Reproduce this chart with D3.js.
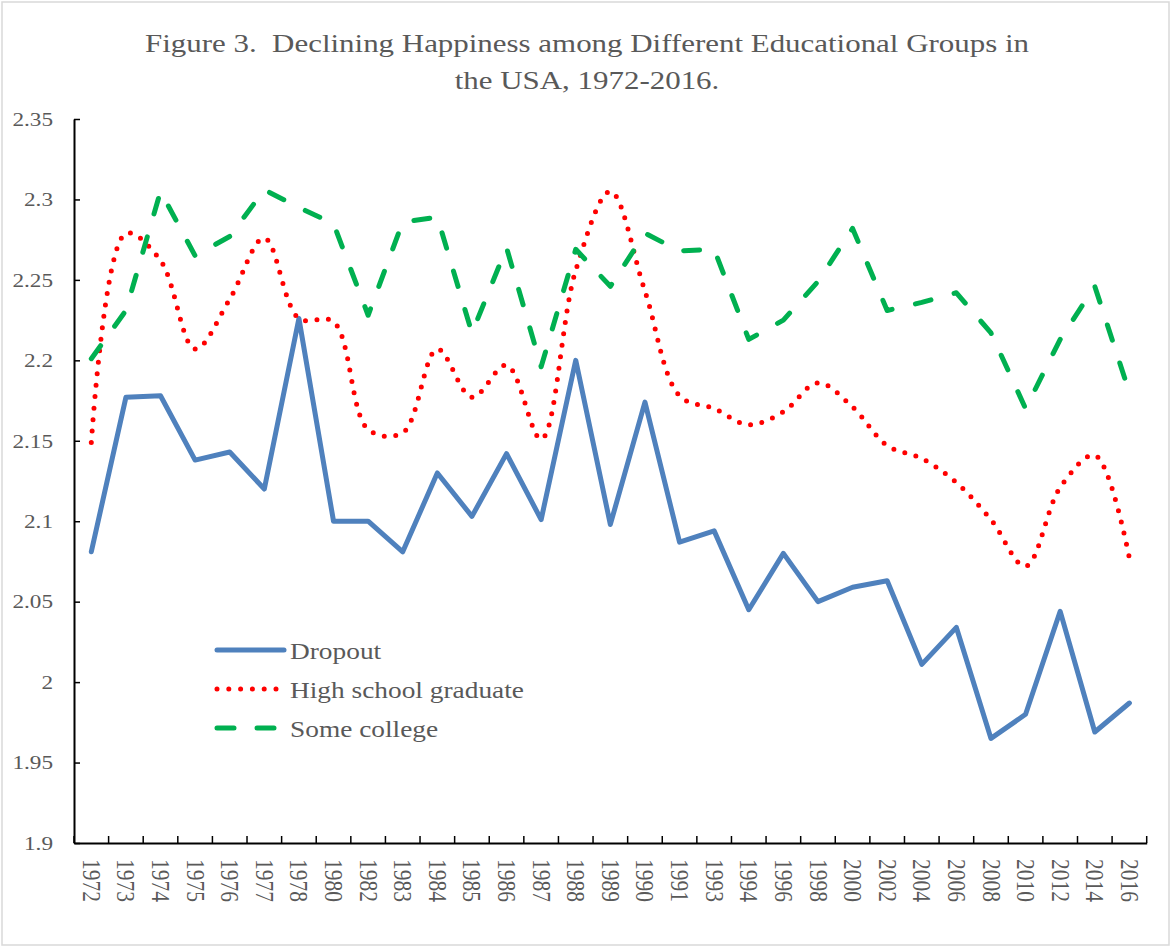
<!DOCTYPE html>
<html>
<head>
<meta charset="utf-8">
<script src="https://cdn.jsdelivr.net/npm/d3@7"></script>
<style>
  body { margin: 0; background: #fff; }
  text { font-family: "Times New Roman", "Liberation Serif", serif; fill: #595959; }
</style>
</head>
<body>
<div id="chart"></div>
<script>
// Chart data
//=====================================================================
var years = ["1972", "1973", "1974", "1975", "1976", "1977", "1978", "1980", "1982", "1983",
    "1984", "1985", "1986", "1987", "1988", "1989", "1990", "1991", "1993", "1994",
    "1996", "1998", "2000", "2002", "2004", "2006", "2008", "2010", "2012", "2014", "2016"];

var dropout = [2.081, 2.177, 2.178, 2.138, 2.143, 2.120, 2.226, 2.100, 2.100, 2.081,
    2.130, 2.103, 2.142, 2.101, 2.200, 2.098, 2.174, 2.087, 2.094, 2.045,
    2.080, 2.050, 2.059, 2.063, 2.011, 2.034, 1.965, 1.980, 2.044, 1.969, 1.987];

var highSchool = [2.149, 2.279, 2.262, 2.207, 2.238, 2.276, 2.226, 2.224, 2.157, 2.155,
    2.207, 2.177, 2.197, 2.151, 2.256, 2.305, 2.243, 2.178, 2.170, 2.160,
    2.168, 2.186, 2.171, 2.147, 2.139, 2.124, 2.101, 2.072, 2.121, 2.141, 2.077];

var someCollege = [2.201, 2.231, 2.305, 2.265, 2.277, 2.306, 2.295, 2.285, 2.228, 2.286,
    2.289, 2.217, 2.270, 2.196, 2.269, 2.246, 2.279, 2.268, 2.269, 2.213,
    2.225, 2.249, 2.282, 2.231, 2.236, 2.242, 2.217, 2.170, 2.213, 2.246, 2.180];

var yTicks = [1.9, 1.95, 2, 2.05, 2.1, 2.15, 2.2, 2.25, 2.3, 2.35];

var seriesNames = ["Dropout", "High school graduate", "Some college"];

// Layout
//=====================================================================
var svgWidth = 1171;
var svgHeight = 947;
var margin = { top: 119, right: 24.3, bottom: 104, left: 74 };
var width = svgWidth - margin.left - margin.right;
var height = svgHeight - margin.top - margin.bottom;
var stretch = 1.19;   // the figure's text is a bit wide

var svg = d3.select("#chart")
    .append("svg")
    .attr("width", svgWidth)
    .attr("height", svgHeight);

// outer frame
svg.append("rect")
    .attr("x", 2).attr("y", 2)
    .attr("width", svgWidth - 4).attr("height", svgHeight - 4)
    .attr("fill", "none")
    .attr("stroke", "#d9d9d9")
    .attr("stroke-width", 1.5);

var chartGroup = svg.append("g")
    .attr("transform", `translate(${margin.left}, ${margin.top})`);

// Title
svg.append("text")
    .attr("transform", `translate(587, 52) scale(${stretch}, 1)`)
    .attr("text-anchor", "middle")
    .style("font-size", "26px")
    .style("white-space", "pre")
    .text("Figure 3.  Declining Happiness among Different Educational Groups in");

svg.append("text")
    .attr("transform", `translate(587, 89) scale(${stretch}, 1)`)
    .attr("text-anchor", "middle")
    .style("font-size", "26px")
    .text("the USA, 1972-2016.");

// Scales
//=====================================================================
var xScale = d3.scaleBand()
    .domain(years)
    .range([0, width]);

var yScale = d3.scaleLinear()
    .domain([1.9, 2.35])
    .range([height, 0]);

// Axes
//=====================================================================
var leftAxis = d3.axisLeft(yScale)
    .tickValues(yTicks)
    .tickSizeInner(-6)
    .tickSizeOuter(0)
    .tickPadding(21)
    .tickFormat(d => String(+d.toFixed(2)));

var yAxisG = chartGroup.append("g").call(leftAxis);
yAxisG.select(".domain").attr("stroke", "#000").attr("stroke-width", 2);
yAxisG.selectAll(".tick line").attr("stroke", "#000").attr("stroke-width", 1.5);
yAxisG.selectAll(".tick text")
    .attr("x", null)
    .attr("transform", `translate(-21, 0) scale(${stretch}, 1)`)
    .style("font-size", "19.5px")
    .style("font-family", null)
    .attr("fill", "#595959");

var bottomAxis = d3.axisBottom(xScale).tickSize(0).tickSizeOuter(0);
var xAxisG = chartGroup.append("g")
    .attr("transform", `translate(0, ${height})`)
    .call(bottomAxis);
xAxisG.select(".domain").attr("stroke", "#000").attr("stroke-width", 2);
xAxisG.selectAll(".tick text")
    .attr("y", null)
    .attr("dy", "0.33em")
    .attr("text-anchor", "start")
    .attr("transform", `translate(0, 16) scale(${stretch}, 1) rotate(90)`)
    .style("font-size", "21.5px")
    .style("font-family", null)
    .attr("fill", "#595959");

// category boundary ticks (pointing up into the plot)
var step = xScale.step();
xAxisG.selectAll(".bound")
    .data(years.concat(["end"]))
    .enter()
    .append("line")
    .attr("class", "bound")
    .attr("x1", (d, i) => i * step)
    .attr("x2", (d, i) => i * step)
    .attr("y1", 0)
    .attr("y2", -7)
    .attr("stroke", "#000")
    .attr("stroke-width", 1.5);

// Lines
//=====================================================================
var xPos = d => xScale(d) + xScale.bandwidth() / 2;

var series = [
    { name: seriesNames[0], values: dropout, color: "#4f81bd", dash: null, curve: d3.curveLinear },
    { name: seriesNames[1], values: highSchool, color: "#ff0000", dash: "0,11.5", curve: d3.curveCatmullRom.alpha(0.5) },
    { name: seriesNames[2], values: someCollege, color: "#00b050", dash: "16,24", curve: d3.curveLinear }
];

series.forEach(function (s) {
    var line = d3.line()
        .x((d, i) => xPos(years[i]))
        .y(d => yScale(d))
        .curve(s.curve);

    chartGroup.append("path")
        .datum(s.values)
        .attr("d", line)
        .attr("fill", "none")
        .attr("stroke", s.color)
        .attr("stroke-width", 5)
        .attr("stroke-linecap", "round")
        .attr("stroke-linejoin", "round")
        .attr("stroke-dasharray", s.dash);
});

// Legend
//=====================================================================
var legend = svg.append("g")
    .attr("transform", "translate(217, 650)");

var legendItems = legend.selectAll("g")
    .data(series)
    .enter()
    .append("g")
    .attr("transform", (d, i) => `translate(0, ${i * 39})`);

legendItems.append("line")
    .attr("x1", 0)
    .attr("x2", (d, i) => [67, 59.5, 62][i])
    .attr("y1", 0)
    .attr("y2", 0)
    .attr("stroke", d => d.color)
    .attr("stroke-width", 5)
    .attr("stroke-linecap", "round")
    .attr("stroke-dasharray", (d, i) => [null, "0,11.8", "17,23"][i]);

legendItems.append("text")
    .attr("transform", `translate(73, 9) scale(${stretch}, 1)`)
    .style("font-size", "23px")
    .text(d => d.name);
</script>
</body>
</html>
